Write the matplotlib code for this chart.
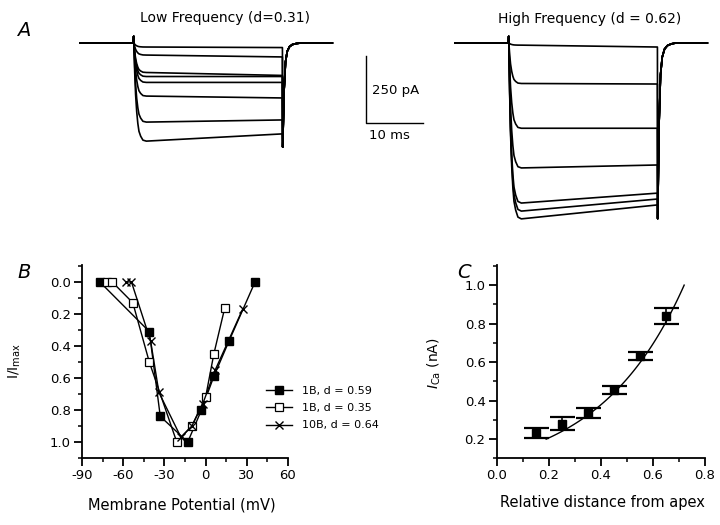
import numpy as np
import matplotlib
matplotlib.use("Agg")
import matplotlib.pyplot as plt
from matplotlib.ticker import MultipleLocator, FormatStrFormatter

plt.rcParams['font.family'] = ['DejaVu Sans']
plt.rcParams['axes.unicode_minus'] = False
plt.rcParams['mathtext.fontset'] = 'dejavusans'

W, H = 720, 525

# ---------------- Panel A data ----------------
sweep_pre_ms = 9.5
step_ms = 26.2
sweep_post_ms = 8.8
onset_t_ms = [0.0, 0.15, 0.3, 0.5, 0.7, 0.9, 1.2, 1.6, 2.2]
onset_frac = [0.0, 0.3, 0.52, 0.7, 0.82, 0.9, 0.95, 0.99, 1.0]
tail_t_ms = [0.0, 0.25, 0.5, 0.8, 1.2, 1.7, 2.4, 3.2]
tail_frac = [1.0, 0.45, 0.18, 0.08, 0.035, 0.015, 0.005, 0.0]
cap_spike_pA = 25

low_peak_pA = [15, 45, 110, 125, 147, 198, 295, 366]
low_end_pA = [17, 52, 121, 125, 147, 205, 287, 339]
low_tail_pA = 388
high_peak_pA = [8, 151, 318, 466, 597, 627, 656]
high_end_pA = [15, 153, 318, 455, 560, 582, 604]
high_tail_pA = 655

low_title = "Low Frequency (d=0.31)"
high_title = "High Frequency (d = 0.62)"
bar_pA = 250
bar_ms = 10

# ---------------- Panel B data ----------------
vm_filled = [-77, -41, -33, -13, -3, 6, 17, 36]
i_filled = [0.0, 0.31, 0.84, 1.0, 0.80, 0.59, 0.37, 0.0]
vm_open = [-72, -68, -53, -41, -21, -10, 0, 6, 14]
i_open = [0.0, 0.0, 0.13, 0.50, 1.0, 0.90, 0.72, 0.45, 0.16]
vm_cross = [-58, -54, -40, -34, -18, -10, -2, 7, 27]
i_cross = [0.0, 0.0, 0.37, 0.69, 0.97, 0.90, 0.76, 0.55, 0.17]
b_labels = ["1B, d = 0.59", "1B, d = 0.35", "10B, d = 0.64"]

# ---------------- Panel C data ----------------
dist = [0.15, 0.25, 0.35, 0.45, 0.55, 0.65]
ica = [0.23, 0.28, 0.335, 0.455, 0.63, 0.84]
ica_err = [0.027, 0.035, 0.025, 0.022, 0.022, 0.042]
fit_a, fit_b = 0.112, 3.04
fit_lo, fit_hi = 0.19, 0.72

fig = plt.figure(figsize=(7.2, 5.25), dpi=100)

def fxy(px, py):
    return px / W, 1 - py / H

# ---------------- Panel A ----------------
px_per_ms = 5.67
pA_per_px = 3.73
base_y = 43
axA = fig.add_axes([0, 1 - 250 / H, 1, 250 / H])
axA.set_xlim(0, W / px_per_ms)
axA.set_ylim(-(250 - base_y) * pA_per_px, base_y * pA_per_px)
axA.axis('off')

def draw_sweep(ax, t0, peaks, ends, tail):
    for pk, en in zip(peaks, ends):
        t = [0.0, sweep_pre_ms - 0.1, sweep_pre_ms - 0.03]
        y = [0.0, 0.0, cap_spike_pA]
        for tt, fr in zip(onset_t_ms, onset_frac):
            t.append(sweep_pre_ms + tt)
            y.append(-pk * fr)
        t.append(sweep_pre_ms + step_ms)
        y.append(-en)
        for tt, fr in zip(tail_t_ms, tail_frac):
            t.append(sweep_pre_ms + step_ms + 0.05 + tt)
            y.append(-tail * fr)
        t.append(sweep_pre_ms + step_ms + sweep_post_ms)
        y.append(0.0)
        ax.plot(np.array(t) + t0, y, color='black', lw=1.2, solid_joinstyle='round')

draw_sweep(axA, 80 / px_per_ms, low_peak_pA, low_end_pA, low_tail_pA)
draw_sweep(axA, 455 / px_per_ms, high_peak_pA, high_end_pA, high_tail_pA)

# scale bar
sb_t = 366 / px_per_ms
sb_i = -(123.3 - base_y) * pA_per_px
axA.plot([sb_t, sb_t, sb_t + bar_ms], [sb_i + bar_pA, sb_i, sb_i], color='black', lw=1.0)
fig.text(*fxy(372, 90), f"{bar_pA} pA", fontsize=9.5, ha='left', va='center')
fig.text(*fxy(389, 136), f"{bar_ms} ms", fontsize=9.5, ha='center', va='center')

fig.text(*fxy(225, 18), low_title, fontsize=10, ha='center', va='center')
fig.text(*fxy(590, 19), high_title, fontsize=10, ha='center', va='center')

# panel letters
fig.text(*fxy(24, 30), "A", fontsize=14, style='italic', ha='center', va='center')
fig.text(*fxy(24, 272), "B", fontsize=14, style='italic', ha='center', va='center')
fig.text(*fxy(464, 272), "C", fontsize=14, style='italic', ha='center', va='center')

def style_axes(ax):
    for s in ['top', 'right']:
        ax.spines[s].set_visible(False)
    for s in ['left', 'bottom']:
        ax.spines[s].set_linewidth(1.3)
    ax.tick_params(which='major', direction='out', length=6, width=1.3, labelsize=9.5, pad=2)
    ax.tick_params(which='minor', direction='out', length=3, width=1.1)

# ---------------- Panel B ----------------
axB = fig.add_axes([82 / W, 1 - 458 / H, 206 / W, 193 / H])
style_axes(axB)
h1, = axB.plot(vm_filled, i_filled, '-s', color='black', lw=1.0, ms=5.5, mfc='black', mec='black')
h2, = axB.plot(vm_open, i_open, '-s', color='black', lw=1.0, ms=5.5, mfc='white', mec='black', mew=0.9)
h3, = axB.plot(vm_cross, i_cross, '-x', color='black', lw=1.0, ms=6, mew=1.0)
axB.set_xlim(-90, 60)
axB.set_ylim(1.1, -0.106)
axB.xaxis.set_major_locator(MultipleLocator(30))
axB.xaxis.set_minor_locator(MultipleLocator(15))
axB.yaxis.set_major_locator(MultipleLocator(0.2))
axB.yaxis.set_minor_locator(MultipleLocator(0.1))
axB.yaxis.set_major_formatter(FormatStrFormatter('%.1f'))
leg = axB.legend([h1, h2, h3], b_labels, loc='upper left',
                 bbox_to_anchor=fxy(266, 386), bbox_transform=fig.transFigure,
                 frameon=False, fontsize=8, handlelength=2.3, handletextpad=0.9,
                 labelspacing=0.65, borderpad=0, borderaxespad=0)
fig.text(*fxy(15, 361), "I/I$_{\\mathrm{max}}$", fontsize=10, rotation=90, ha='center', va='center')
fig.text(*fxy(182, 505), "Membrane Potential (mV)", fontsize=10.5, ha='center', va='center')

# ---------------- Panel C ----------------
axC = fig.add_axes([496.7 / W, 1 - 458.3 / H, 208.3 / W, 193.3 / H])
style_axes(axC)
xf = np.linspace(fit_lo, fit_hi, 100)
axC.plot(xf, fit_a * np.exp(fit_b * xf), color='black', lw=1.0)
axC.errorbar(dist, ica, yerr=ica_err, fmt='s', color='black', ms=5.5, capsize=9,
             capthick=1.6, elinewidth=1.2)
axC.set_xlim(0, 0.8)
axC.set_ylim(0.1, 1.104)
axC.xaxis.set_major_locator(MultipleLocator(0.2))
axC.xaxis.set_minor_locator(MultipleLocator(0.1))
axC.yaxis.set_major_locator(MultipleLocator(0.2))
axC.yaxis.set_minor_locator(MultipleLocator(0.1))
axC.xaxis.set_major_formatter(FormatStrFormatter('%.1f'))
axC.yaxis.set_major_formatter(FormatStrFormatter('%.1f'))
axC.set_yticks([0.2, 0.4, 0.6, 0.8, 1.0])
fig.text(*fxy(434, 363), "$I_{\\mathrm{Ca}}$ (nA)", fontsize=10, rotation=90, ha='center', va='center')
fig.text(*fxy(602, 502), "Relative distance from apex", fontsize=10.5, ha='center', va='center')

fig.savefig("out.png", dpi=100)
